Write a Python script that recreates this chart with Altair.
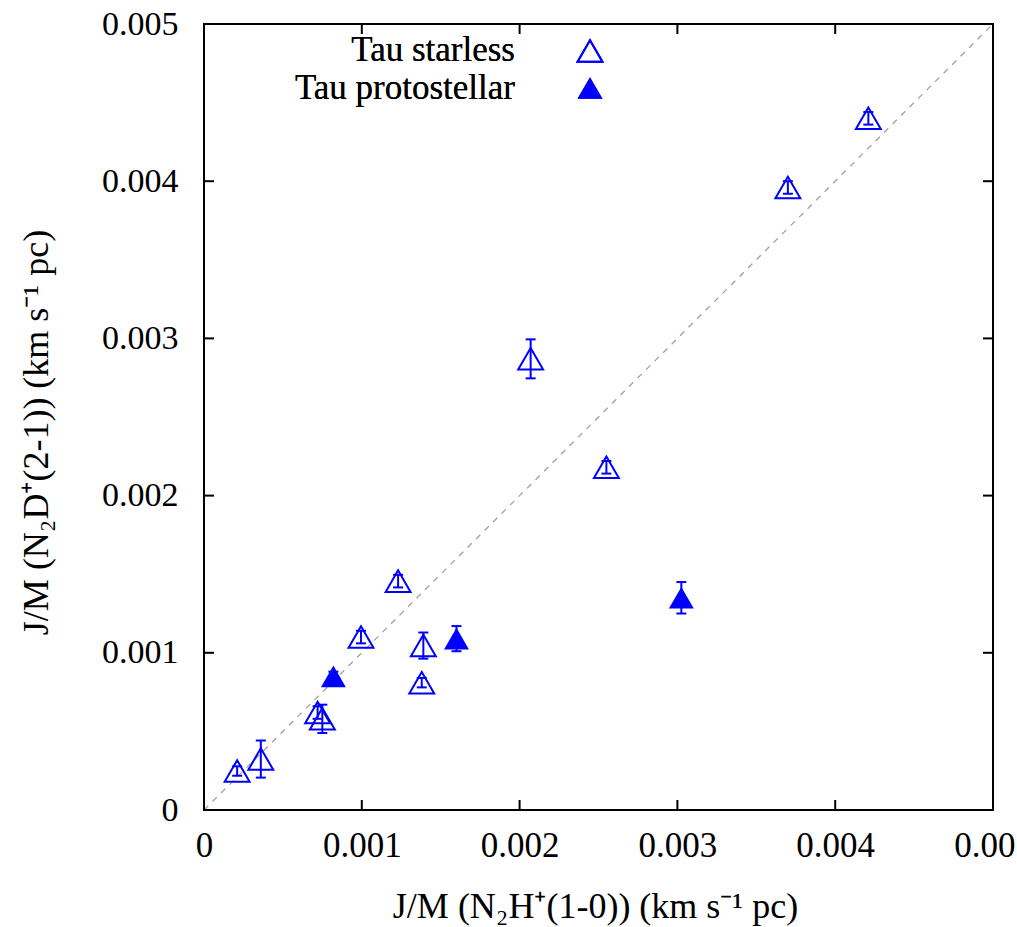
import altair as alt
import pandas as pd

# Tau starless cores
sl_x = [0.00021, 0.00036, 0.00072, 0.00075, 0.000995, 0.00123, 0.00139, 0.00138, 0.00207, 0.00255, 0.00370, 0.00421]
sl_y = [0.000248, 0.000324, 0.00062, 0.00058, 0.00110, 0.001456, 0.001046, 0.00081, 0.00287, 0.00218, 0.00396, 0.00440]
sl_err = [0.00003, 0.000118, 0.00004, 0.00009, 0.00004, 0.00004, 0.000083, 0.00003, 0.000124, 0.00004, 0.00004, 0.00004]

# Tau protostellar cores
ps_x = [0.00082, 0.00160, 0.003025]
ps_y = [0.00085, 0.00109, 0.00135]
ps_err = [0.00003, 0.00008, 0.00010]

tick_vals = [0, 0.001, 0.002, 0.003, 0.004, 0.005]
diag_vals = [0, 0.005]

W, H = 789, 786
BLUE = "#0000ff"
FONT = "Liberation Serif"

sl = pd.DataFrame({"x": sl_x, "y": sl_y,
                   "lo": [y - e for y, e in zip(sl_y, sl_err)],
                   "hi": [y + e for y, e in zip(sl_y, sl_err)]})
ps = pd.DataFrame({"x": ps_x, "y": ps_y,
                   "lo": [y - e for y, e in zip(ps_y, ps_err)],
                   "hi": [y + e for y, e in zip(ps_y, ps_err)]})
diag = pd.DataFrame({"x": diag_vals, "y": diag_vals})
ticks = pd.DataFrame({"x": tick_vals, "y": tick_vals})

xscale = alt.Scale(domain=[0, 0.005], nice=False, zero=False)
yscale = alt.Scale(domain=[0, 0.005], nice=False, zero=False)

lab = "datum.value == 0 ? '0' : format(datum.value, '.3f')"
xaxis = alt.Axis(values=tick_vals, labelExpr=lab, ticks=False, domain=False, grid=False,
                 labelFont=FONT, labelFontSize=35, labelColor="black", labelPadding=18,
                 labelFlush=False, labelOverlap=False, labelLimit=400,
                 title="J/M (N₂H⁺(1-0)) (km s⁻¹ pc)", titleFont=FONT, titleFontSize=36,
                 titleFontWeight="normal", titleColor="black", titleX=391, titleY=96,
                 titleBaseline="middle")
yaxis = alt.Axis(values=tick_vals, labelExpr=lab, ticks=False, domain=False, grid=False,
                 labelFont=FONT, labelFontSize=34, labelColor="black", labelPadding=26,
                 labelFlush=False, labelOverlap=False, labelLimit=400,
                 title="J/M (N₂D⁺(2-1)) (km s⁻¹ pc)", titleFont=FONT, titleFontSize=36,
                 titleFontWeight="normal", titleColor="black", titleX=-168, titleY=408,
                 titleBaseline="middle", titleAngle=-90)


def X(field="x"):
    return alt.X(f"{field}:Q", scale=xscale, axis=xaxis)


def Y(field="y"):
    return alt.Y(f"{field}:Q", scale=yscale, axis=yaxis)


line = alt.Chart(diag).mark_line(color="#a0a0a0", strokeDash=[6, 6], strokeWidth=1.3).encode(
    x=X(), y=Y())

# inward ticks on all four sides
t_bottom = alt.Chart(ticks).mark_rule(color="black", strokeWidth=2).encode(
    x=X(), y=alt.value(H - 10), y2=alt.value(H))
t_top = alt.Chart(ticks).mark_rule(color="black", strokeWidth=2).encode(
    x=X(), y=alt.value(0), y2=alt.value(10))
t_left = alt.Chart(ticks).mark_rule(color="black", strokeWidth=2).encode(
    y=Y(), x=alt.value(0), x2=alt.value(10))
t_right = alt.Chart(ticks).mark_rule(color="black", strokeWidth=2).encode(
    y=Y(), x=alt.value(W - 10), x2=alt.value(W))


def errbars(df):
    bar = alt.Chart(df).mark_rule(color=BLUE, strokeWidth=2).encode(
        x=X(), y=Y("lo"), y2="hi:Q")
    cap_lo = alt.Chart(df).mark_rule(color=BLUE, strokeWidth=2, xOffset=-5, x2Offset=5).encode(
        x=X(), x2="x:Q", y=Y("lo"))
    cap_hi = alt.Chart(df).mark_rule(color=BLUE, strokeWidth=2, xOffset=-5, x2Offset=5).encode(
        x=X(), x2="x:Q", y=Y("hi"))
    return [bar, cap_lo, cap_hi]


pts_sl = alt.Chart(sl).mark_point(shape="triangle-up", filled=False, color=BLUE,
                                  strokeWidth=2, size=620, opacity=1).encode(x=X(), y=Y())
pts_ps = alt.Chart(ps).mark_point(shape="triangle-up", filled=True, color=BLUE,
                                  size=620, opacity=1).encode(x=X(), y=Y())

# key (top of plot, symbols to the right of labels)
key_t1 = alt.Chart(diag).mark_text(font=FONT, fontSize=35, align="right", baseline="middle",
                                   color="black").encode(
    x=alt.value(311), y=alt.value(26), text=alt.value("Tau starless"))
key_t2 = alt.Chart(diag).mark_text(font=FONT, fontSize=35, align="right", baseline="middle",
                                   color="black").encode(
    x=alt.value(311), y=alt.value(64), text=alt.value("Tau protostellar"))
key_p1 = alt.Chart(diag).mark_point(shape="triangle-up", filled=False, color=BLUE,
                                    strokeWidth=2, size=620, opacity=1).encode(
    x=alt.value(386), y=alt.value(27))
key_p2 = alt.Chart(diag).mark_point(shape="triangle-up", filled=True, color=BLUE,
                                    size=620, opacity=1).encode(
    x=alt.value(386), y=alt.value(64))

layers = [line, t_bottom, t_top, t_left, t_right] + errbars(sl) + errbars(ps) + \
         [pts_sl, pts_ps, key_t1, key_t2, key_p1, key_p2]

chart = alt.layer(*layers).properties(
    width=W, height=H,
    autosize=alt.AutoSizeParams(type="none"),
    padding={"left": 204, "top": 24, "right": 24, "bottom": 117},
    background="white",
).configure_view(stroke="black", strokeWidth=2)

chart.save("out.html", embed_options={"renderer": "svg", "actions": False})
